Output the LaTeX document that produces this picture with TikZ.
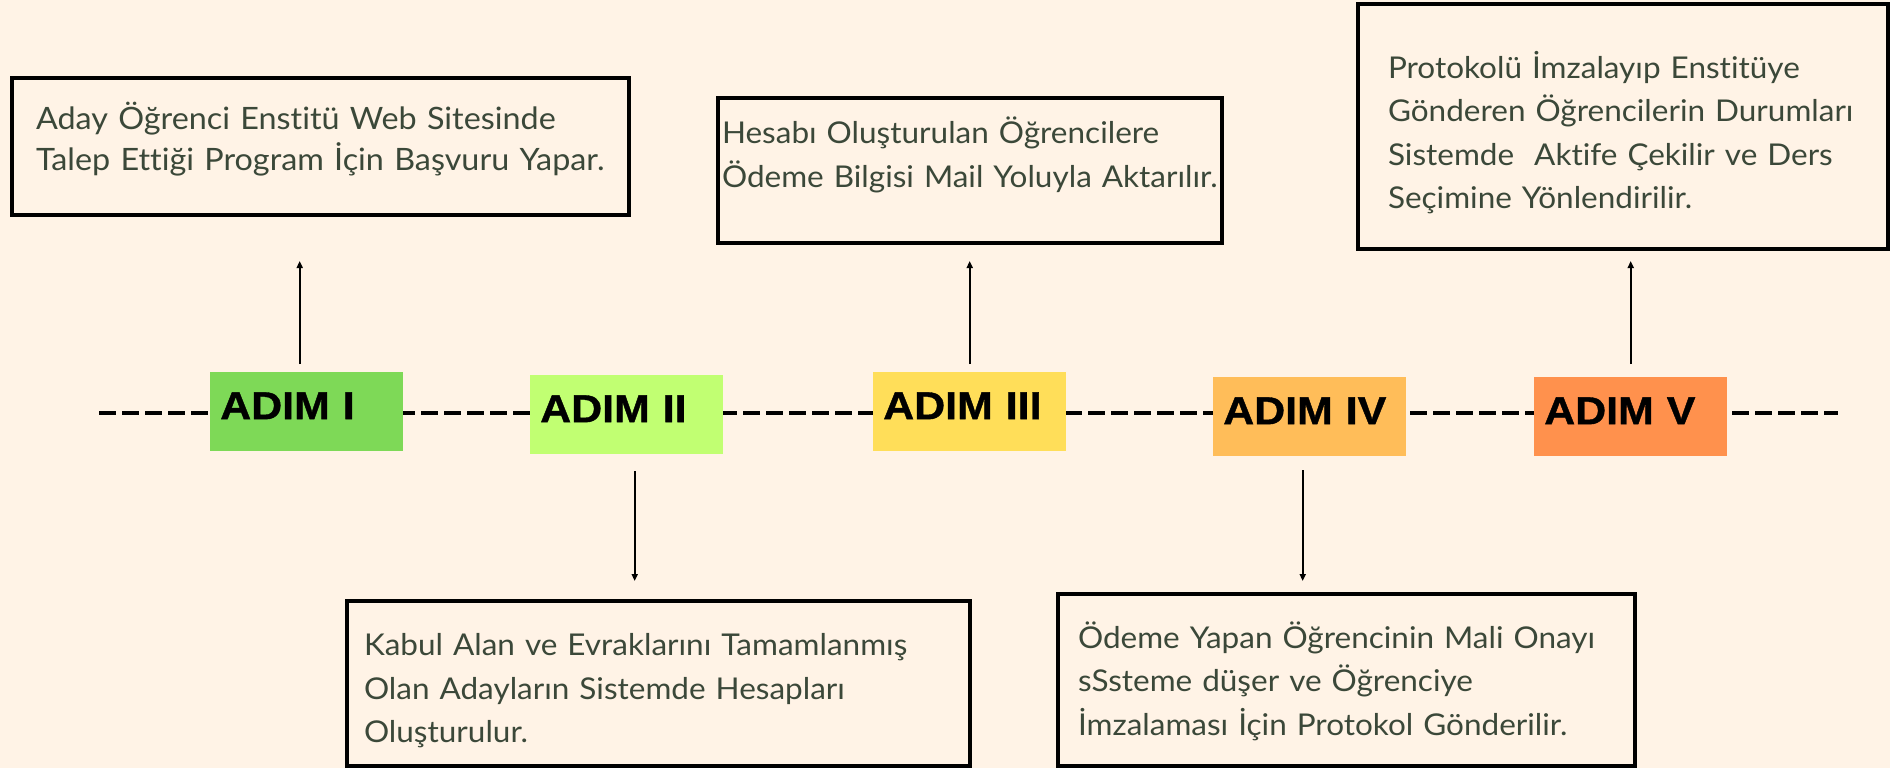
\documentclass[tikz,border=0pt]{standalone}
\usepackage{fontspec}
\usetikzlibrary{arrows.meta}
\newfontfamily\bodyfont[FakeStretch=1.05,Ligatures=NoCommon]{Lato}
\newfontfamily\stepfont[FakeStretch=1.1,FakeBold=1]{Liberation Sans Bold}
\definecolor{bgc}{HTML}{FFF3E6}
\definecolor{txtc}{HTML}{3B4839}
\definecolor{cI}{HTML}{7ED957}
\definecolor{cII}{HTML}{C1FF72}
\definecolor{cIII}{HTML}{FFDE59}
\definecolor{cIV}{HTML}{FFBD59}
\definecolor{cV}{HTML}{FF914D}
\begin{document}
\begin{tikzpicture}[x=1pt,y=-1pt,
  stepbox/.style={rectangle, anchor=north west, inner xsep=10pt, inner ysep=0pt,
    text width=173pt, align=left, minimum width=193pt, minimum height=79pt,
    text height=30pt, text depth=15pt, font=\stepfont\fontsize{39}{44}\selectfont, text=black},
  infobox/.style={rectangle, draw=black, line width=4pt, fill=bgc, anchor=north west,
    inner sep=0pt, align=left, text=txtc, font=\bodyfont\fontsize{30}{43.5}\selectfont},
  arr/.style={line width=1.8pt, -{Triangle[length=7pt,width=6pt]}},
  timeline/.style={line width=3.5pt, dash pattern=on 17pt off 6pt}
]
\fill[bgc] (0,0) rectangle (1890,768);
\useasboundingbox (0,0) rectangle (1890,768);

\coordinate (L) at (99,413);
\coordinate (R) at (1838,413);
\draw[timeline] (L) -- (R);

\node[stepbox, fill=cI]   (s1) at (210,372) {ADIM I};
\node[stepbox, fill=cII]  (s2) at (530,375) {ADIM II};
\node[stepbox, fill=cIII] (s3) at (873,372) {ADIM III};
\node[stepbox, fill=cIV]  (s4) at (1213,377) {ADIM IV};
\node[stepbox, fill=cV]   (s5) at (1534,377) {ADIM V};

\node[infobox, minimum width=617pt, minimum height=137pt, text width=569pt,
  text height=20pt, text depth=55pt, font=\bodyfont\fontsize{30.8}{41}\selectfont] (b1) at (10,76)
  {Aday Öğrenci Enstitü Web Sitesinde\\Talep Ettiği Program İçin Başvuru Yapar.};
\node[infobox, minimum width=623pt, minimum height=165pt, text width=589pt,
  text height=20pt, text depth=76pt] (b2) at (345,599)
  {Kabul Alan ve Evraklarını Tamamlanmış\\Olan Adayların Sistemde Hesapları\\Oluşturulur.};
\node[infobox, minimum width=504pt, minimum height=145pt, text width=496pt,
  text height=20pt, text depth=74pt] (b3) at (716,96)
  {Hesabı Oluşturulan Öğrencilere\\Ödeme Bilgisi Mail Yoluyla Aktarılır.};
\node[infobox, minimum width=577pt, minimum height=172pt, text width=537pt,
  text height=20pt, text depth=84pt] (b4) at (1056,592)
  {Ödeme Yapan Öğrencinin Mali Onayı\\sSsteme düşer ve Öğrenciye\\İmzalaması İçin Protokol Gönderilir.};
\node[infobox, minimum width=530pt, minimum height=245pt, text width=470pt,
  text height=20pt, text depth=116pt] (b5) at (1356,2)
  {Protokolü İmzalayıp Enstitüye\\Gönderen Öğrencilerin Durumları\\Sistemde\ \ Aktife Çekilir ve Ders\\Seçimine Yönlendirilir.};

\draw[arr, shorten <=8pt, shorten >=44pt] ([xshift=-7pt]s1.north) -- ([xshift=-7pt]s1.north |- b1.south);
\draw[arr, shorten <=17pt, shorten >=18pt] ([xshift=8pt]s2.south) -- ([xshift=8pt]s2.south |- b2.north);
\draw[arr, shorten <=8pt, shorten >=16pt] (s3.north) -- (s3.north |- b3.south);
\draw[arr, shorten <=14pt, shorten >=11pt] ([xshift=-7pt]s4.south) -- ([xshift=-7pt]s4.south |- b4.north);
\draw[arr, shorten <=13pt, shorten >=10pt] (s5.north) -- (s5.north |- b5.south);
\end{tikzpicture}
\end{document}
